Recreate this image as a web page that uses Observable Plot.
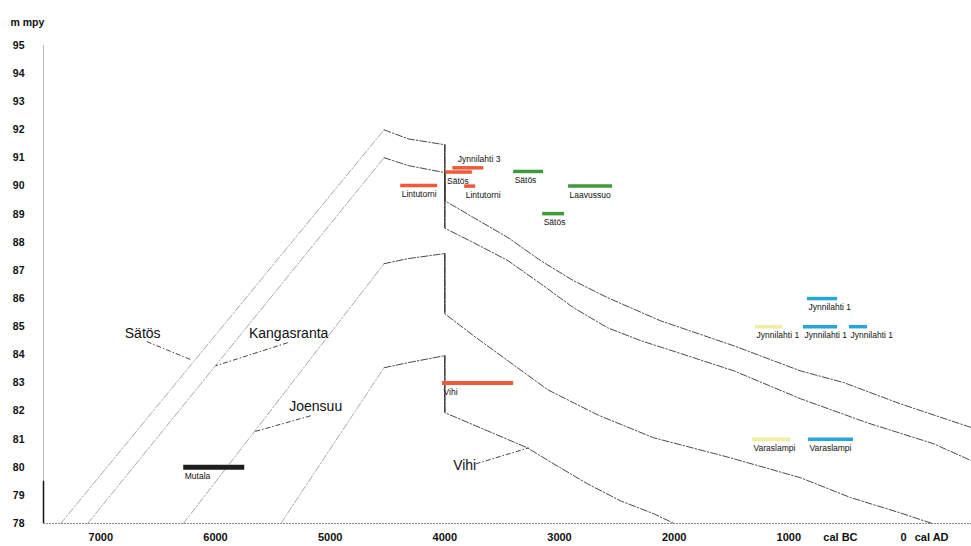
<!DOCTYPE html>
<html>
<head>
<meta charset="utf-8">
<script src="https://cdn.jsdelivr.net/npm/d3@7"></script>
<script src="https://cdn.jsdelivr.net/npm/@observablehq/plot@0.6"></script>
<style>
  html, body { margin: 0; padding: 0; background: #fff; overflow: hidden; }
  #chart svg { display: block; }
</style>
</head>
<body>
<div id="chart"></div>
<script>
// ---- Shoreline curves (year BC positive, AD negative; level in m a.s.l.) ----
const satosYear  = [7350, 4530, 4320, 4000, 4000, 3750, 3450, 3165, 2880, 2580, 2120, 1480, 900, 520, 30, -593];
const satosLevel = [78, 92, 91.68, 91.47, 89.48, 88.88, 88.17, 87.35, 86.64, 86.03, 85.21, 84.32, 83.43, 83.01, 82.26, 81.41];

const kangasYear  = [7115, 4530, 4320, 4000, 4000, 3750, 3450, 3165, 2880, 2580, 2290, 2060, 1480, 900, 315, -260, -593];
const kangasLevel = [78, 91.01, 90.73, 90.48, 88.5, 87.99, 87.35, 86.53, 85.68, 84.96, 84.5, 84.2, 83.43, 82.44, 81.58, 80.84, 80.23];

const joensuuYear  = [6280, 4530, 4320, 4000, 4000, 3750, 3690, 3100, 2660, 2180, 1540, 900, 460, 30, -250];
const joensuuLevel = [78, 87.24, 87.42, 87.6, 85.46, 84.68, 84.5, 82.75, 81.85, 81.05, 80.37, 79.63, 78.92, 78.38, 78];

const vihiYear  = [5430, 4530, 4320, 4000, 4000, 3630, 3280, 3050, 2755, 2470, 2180, 2000];
const vihiLevel = [78, 83.54, 83.72, 83.97, 81.94, 81.3, 80.69, 80.12, 79.41, 78.81, 78.35, 78];

const curveNames = ["Sätös", "Kangasranta", "Joensuu", "Vihi"];

// ---- Curve labels and leader lines ----
const curveLabelYear  = [6635, 5362, 5126, 3827];
const curveLabelLevel = [84.75, 84.75, 82.15, 80.05];
const leaderFromYear  = [6600, 5370, 5170, 3731];
const leaderFromLevel = [84.47, 84.43, 81.83, 80.12];
const leaderToYear    = [6217, 5998, 5667, 3269];
const leaderToLevel   = [83.83, 83.61, 81.26, 80.69];

// ---- Dated sites (bars) ----
const siteNames  = ["Mutala", "Lintutorni", "Jynnilahti 3", "Sätös", "Lintutorni", "Sätös", "Laavussuo", "Sätös", "Vihi",
                    "Jynnilahti 1", "Jynnilahti 1", "Jynnilahti 1", "Jynnilahti 1", "Varaslampi", "Varaslampi"];
const siteStart  = [6277, 4385, 3930, 3990, 3827, 3400, 2921, 3147, 4020, 837, 1290, 872, 471, 1317, 828];
const siteEnd    = [5745, 4063, 3660, 3760, 3731, 3139, 2537, 2956, 3400, 575, 1055, 575, 314, 985, 436];
const siteLevel  = [80, 90.02, 90.65, 90.5, 90.0, 90.52, 90.0, 89.02, 83.0, 86.0, 85.0, 85.0, 85.0, 81.0, 81.0];
const siteGroup  = ["black", "red", "red", "red", "red", "green", "green", "green", "red", "blue", "yellow", "blue", "blue", "yellow", "blue"];
const siteLabelSide = ["below", "below", "above", "below", "below", "below", "below", "below", "below",
                       "below", "below", "below", "below", "below", "below"];

// ---- Axis ticks ----
const yTicks = [95, 94, 93, 92, 91, 90, 89, 88, 87, 86, 85, 84, 83, 82, 81, 80, 79, 78];
const xTickValues = [7000, 6000, 5000, 4000, 3000, 2000, 1000, 550, 0, -245];
const xTickLabels = ["7000", "6000", "5000", "4000", "3000", "2000", "1000", "cal BC", "0", "cal AD"];

// ---- Build tables ----
const curveYears = [satosYear, kangasYear, joensuuYear, vihiYear];
const curveLevels = [satosLevel, kangasLevel, joensuuLevel, vihiLevel];
const riseRows = [], restRows = [], dropRows = [];
curveNames.forEach((name, c) => {
  const ys = curveYears[c], ls = curveLevels[c];
  ys.forEach((yr, i) => {
    const row = {curve: name, year: yr, level: ls[i]};
    if (i <= 1) riseRows.push(row);
    if (i >= 1) restRows.push(row);
    if (i > 0 && ys[i - 1] === yr) dropRows.push({year: yr, top: ls[i - 1], bottom: ls[i]});
  });
});
const labelRows = curveNames.map((n, i) => ({name: n, year: curveLabelYear[i], level: curveLabelLevel[i],
  fx: leaderFromYear[i], fy: leaderFromLevel[i], tx: leaderToYear[i], ty: leaderToLevel[i]}));

const colorMap = {black: "#1e1e1e", red: "#ef5a38", green: "#3f9a3c", blue: "#27a6dc", yellow: "#f2eea0"};
const sites = siteNames.map((n, i) => ({name: n, start: siteStart[i], end: siteEnd[i], level: siteLevel[i],
  color: colorMap[siteGroup[i]], side: siteLabelSide[i],
  width: siteGroup[i] === "black" ? 5 : (n === "Vihi" ? 4 : 3.5)}));

const tickLabel = new Map(xTickValues.map((v, i) => [v, xTickLabels[i]]));
const dashDot = "7,2,1.5,2";

const chart = Plot.plot({
  width: 971,
  height: 546,
  marginLeft: 43,
  marginRight: 0,
  marginTop: 45,
  marginBottom: 23,
  style: {fontFamily: "'Liberation Sans', Arial, sans-serif", color: "#111", background: "#fff"},
  x: {domain: [7500, -593], axis: null},
  y: {domain: [78, 95], axis: null},
  marks: [
    // axes lines
    Plot.ruleX([7500], {y1: 78, y2: 95, stroke: "#b5b5b5", strokeWidth: 1}),
    Plot.ruleX([7500], {y1: 78, y2: 79.5, stroke: "#111", strokeWidth: 1.5}),
    Plot.ruleY([78], {stroke: "#8a8a8a", strokeWidth: 1.2, strokeDasharray: "2,1"}),
    Plot.axisY({ticks: yTicks, tickSize: 0, tickPadding: 19, fontSize: 10.5, fontWeight: "bold", label: null}),
    Plot.axisX({ticks: xTickValues, tickSize: 0, tickPadding: 10, fontSize: 11, fontWeight: "bold", label: null,
      tickFormat: d => tickLabel.get(d)}),
    Plot.text(["m mpy"], {frameAnchor: "top-left", dx: -33, dy: -27, textAnchor: "start", fontSize: 10.5, fontWeight: "bold"}),
    // shoreline curves
    Plot.line(riseRows, {x: "year", y: "level", z: "curve", stroke: "#a8a8a8", strokeWidth: 1, strokeDasharray: dashDot}),
    Plot.line(restRows, {x: "year", y: "level", z: "curve", stroke: "#4a4a4a", strokeWidth: 1, strokeDasharray: dashDot}),
    Plot.ruleX(dropRows, {x: "year", y1: "top", y2: "bottom", stroke: "#333", strokeWidth: 1.2}),
    // site bars
    Plot.ruleY(sites, {y: "level", x1: "start", x2: "end", stroke: "color", strokeWidth: "width"}),
    Plot.text(sites.filter(d => d.side === "below"), {x: "start", y: "level", text: "name", textAnchor: "start",
      dx: 1, dy: 9, fontSize: 8.5, fill: "#111"}),
    Plot.text(sites.filter(d => d.side === "above"), {x: "start", y: "level", text: "name", textAnchor: "start",
      dx: 5, dy: -9, fontSize: 8.5, fill: "#111"}),
    // curve labels with leaders
    Plot.link(labelRows, {x1: "fx", y1: "fy", x2: "tx", y2: "ty", stroke: "#444", strokeWidth: 1, strokeDasharray: "5,2,1.5,2"}),
    Plot.text(labelRows, {x: "year", y: "level", text: "name", fontSize: 14, fill: "#111"})
  ]
});
document.getElementById("chart").appendChild(chart);
</script>
</body>
</html>
